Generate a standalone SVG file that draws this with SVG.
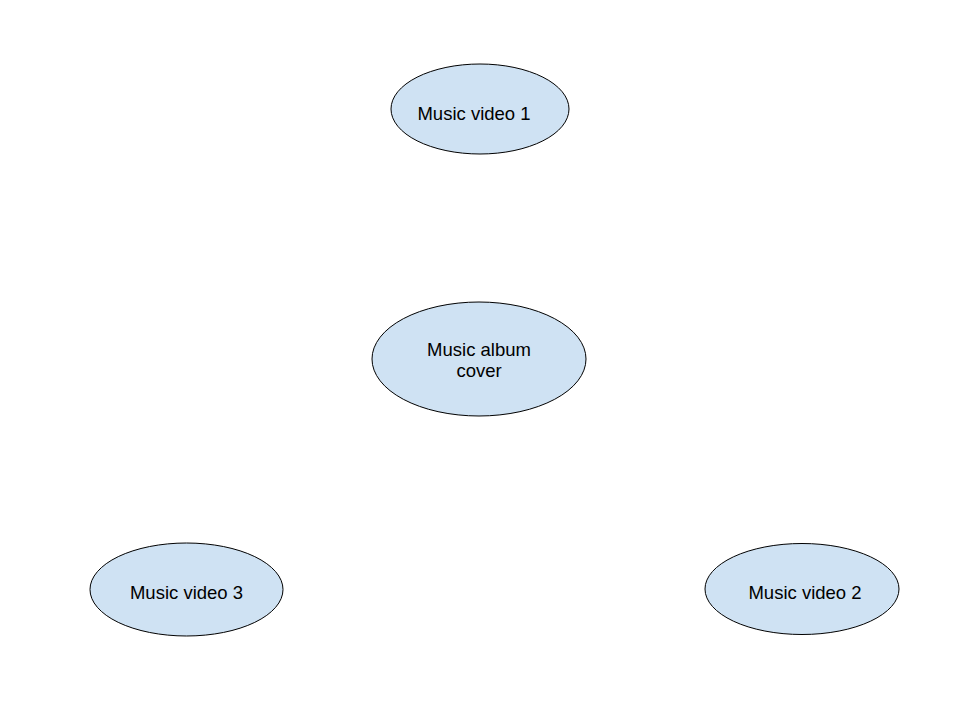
<svg xmlns="http://www.w3.org/2000/svg" width="960" height="721" viewBox="0 0 960 721">
<style>
.n{fill:#cfe2f3;stroke:#000;stroke-width:1}
.t{font-family:"Liberation Sans",Arial,sans-serif;font-size:18.5px;fill:#000;text-anchor:middle}
</style>
<rect width="960" height="721" fill="#fff"/>
<g id="connectors"></g>
<g id="mv1"><ellipse class="n" cx="480" cy="109" rx="89" ry="45"/><text class="t" x="474" y="120">Music video 1</text></g>
<g id="album"><ellipse class="n" cx="479" cy="359" rx="107" ry="57"/><text class="t" x="479" y="356">Music album</text><text class="t" x="479" y="377">cover</text></g>
<g id="mv3"><ellipse class="n" cx="186.5" cy="589.5" rx="96.5" ry="46.5"/><text class="t" x="186.5" y="599">Music video 3</text></g>
<g id="mv2"><ellipse class="n" cx="802" cy="589" rx="97" ry="45.5"/><text class="t" x="805" y="599">Music video 2</text></g>
</svg>
